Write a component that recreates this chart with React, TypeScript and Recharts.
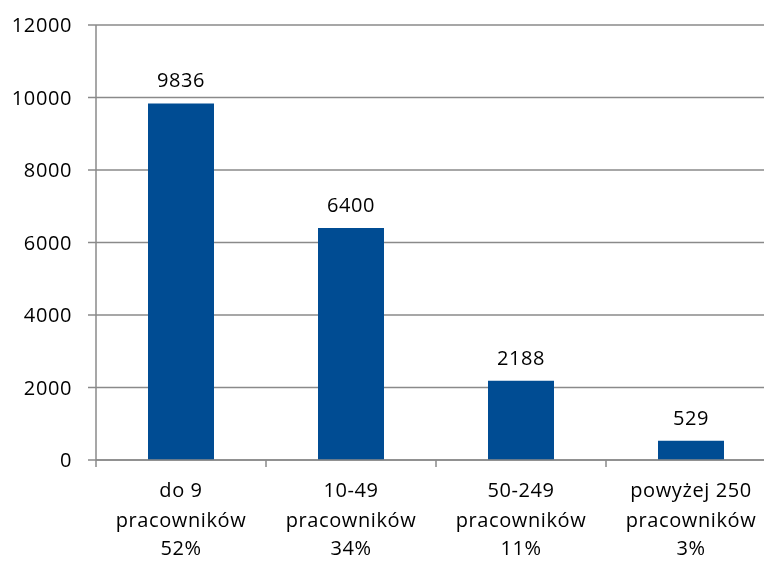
import { BarChart, Bar, XAxis, YAxis, CartesianGrid, LabelList } from 'recharts';

// firms by number of employees
const groups = ['do 9', '10-49', '50-249', 'powyżej 250'];
const unit = 'pracowników';
const shares = ['52%', '34%', '11%', '3%'];
const counts = [9836, 6400, 2188, 529];
const yTicks = [0, 2000, 4000, 6000, 8000, 10000, 12000];

const data = groups.map((g, i) => ({ name: g, share: shares[i], count: counts[i] }));

const FONT = '"Open Sans", sans-serif';
const FONT_SIZE = 20;
const SPACING = 0.6;
const GREY = '#8a8a8a';
const CHART_W = 780;
const PLOT_LEFT = 96;
const PLOT_RIGHT = 4;
const band = (CHART_W - PLOT_LEFT - PLOT_RIGHT) / groups.length;

// three-line category label plus tick marks on the band edges
const CategoryTick = (props: any) => {
  const { x, y, payload, index } = props;
  const row = data[index] || data.find((d) => d.name === payload.value);
  const textProps = {
    x,
    textAnchor: 'middle' as const,
    fontFamily: FONT,
    fontSize: FONT_SIZE,
    letterSpacing: SPACING,
    fill: '#000',
  };
  return (
    <g>
      <line x1={x - band / 2} x2={x - band / 2} y1={y} y2={y + 7} stroke={GREY} strokeWidth={1.5} />
      {index === groups.length - 1 && (
        <line x1={x + band / 2} x2={x + band / 2} y1={y} y2={y + 7} stroke={GREY} strokeWidth={1.5} />
      )}
      <text {...textProps} y={y + 37}>{payload.value}</text>
      <text {...textProps} y={y + 67}>{unit}</text>
      <text {...textProps} y={y + 95}>{row ? row.share : ''}</text>
    </g>
  );
};

export default function App() {
  return (
    <div style={{ position: 'fixed', left: 0, top: 0, width: 764, height: 561, overflow: 'hidden' }}>
      <BarChart
        width={CHART_W}
        height={561}
        data={data}
        margin={{ top: 25, right: PLOT_RIGHT, left: 0, bottom: 0 }}
      >
        <CartesianGrid vertical={false} stroke={GREY} strokeWidth={1.5} />
        <XAxis
          dataKey="name"
          height={101}
          axisLine={{ stroke: GREY, strokeWidth: 1.5 }}
          tickLine={false}
          tickSize={0}
          tickMargin={0}
          interval={0}
          tick={<CategoryTick />}
        />
        <YAxis
          width={PLOT_LEFT}
          domain={[0, 12000]}
          ticks={yTicks}
          interval={0}
          axisLine={{ stroke: GREY, strokeWidth: 1.5 }}
          tickLine={{ stroke: GREY, strokeWidth: 1.5 }}
          tickSize={8}
          tickMargin={16}
          tick={{ fontFamily: FONT, fontSize: FONT_SIZE, letterSpacing: SPACING, fill: '#000' }}
        />
        <Bar dataKey="count" fill="#004C93" barSize={66} isAnimationActive={false}>
          <LabelList
            dataKey="count"
            position="top"
            offset={16}
            style={{ fontFamily: FONT, fontSize: FONT_SIZE, letterSpacing: SPACING, fill: '#000' }}
          />
        </Bar>
      </BarChart>
    </div>
  );
}
